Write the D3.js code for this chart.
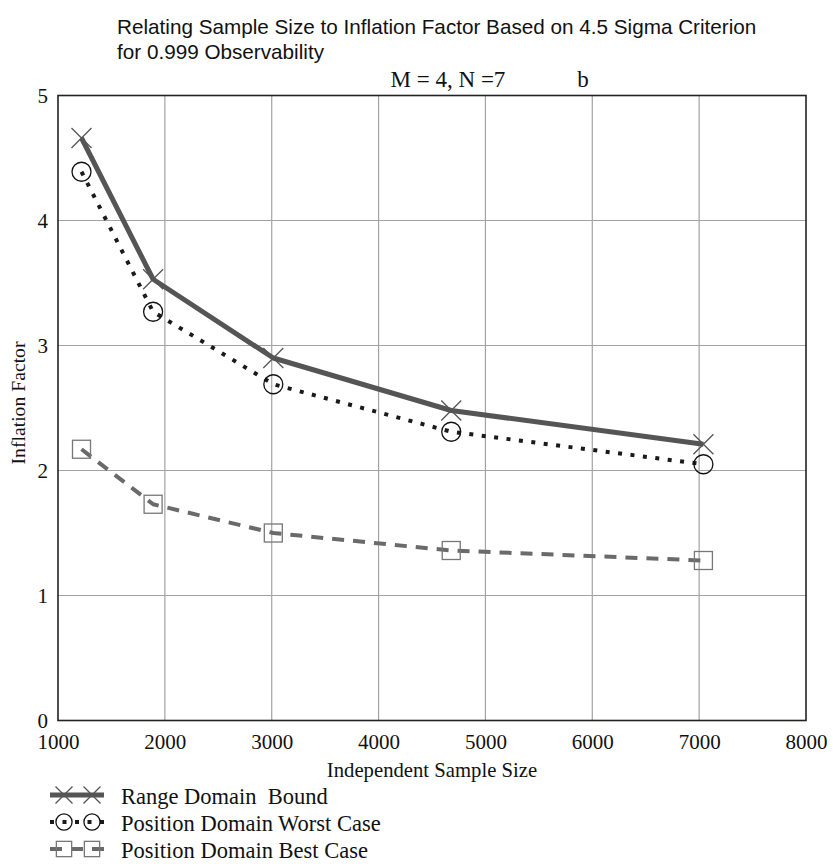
<!DOCTYPE html>
<html>
<head>
<meta charset="utf-8">
<script src="https://cdn.jsdelivr.net/npm/d3@7"></script>
<style>
  html, body { margin: 0; padding: 0; background: #fff; }
  svg { display: block; }
</style>
</head>
<body>
<svg id="chart" width="833" height="864"></svg>
<script>
// ---- data ----
const sampleSizes = [1220, 1890, 3015, 4680, 7040];
const rangeBound = [4.66, 3.53, 2.90, 2.48, 2.21];
const worstCase = [4.39, 3.27, 2.69, 2.31, 2.05];
const bestCase = [2.17, 1.73, 1.50, 1.36, 1.28];
const xTicks = [1000, 2000, 3000, 4000, 5000, 6000, 7000, 8000];
const yTicks = [0, 1, 2, 3, 4, 5];
const seriesNames = ["Range Domain  Bound", "Position Domain Worst Case", "Position Domain Best Case"];
const titleLines = ["Relating Sample Size to Inflation Factor Based on 4.5 Sigma Criterion", "for 0.999 Observability"];

// ---- layout ----
const svg = d3.select("#chart");
const L = 58, R = 806, T = 95.5, B = 720.5;
const x = d3.scaleLinear().domain([1000, 8000]).range([L, R]);
const y = d3.scaleLinear().domain([0, 5]).range([B, T]);
const serif = "'Liberation Serif', 'Times New Roman', serif";
const sans = "'Liberation Sans', Arial, sans-serif";

// title
svg.append("g").selectAll("text").data(titleLines).join("text")
  .attr("x", 117).attr("y", (d, i) => 34 + i * 25)
  .attr("font-family", sans).attr("font-size", 20.7).attr("fill", "#111")
  .text(d => d);
svg.append("text").attr("x", 448).attr("y", 87).attr("text-anchor", "middle")
  .attr("font-family", serif).attr("font-size", 23).attr("fill", "#111").text("M = 4, N =7");
svg.append("text").attr("x", 583).attr("y", 87).attr("text-anchor", "middle")
  .attr("font-family", serif).attr("font-size", 23).attr("fill", "#111").text("b");

// gridlines
const grid = svg.append("g").attr("stroke", "#a3a3a3").attr("stroke-width", 1.2);
grid.selectAll("line.vx").data(xTicks.slice(1, -1)).join("line")
  .attr("x1", d => x(d)).attr("x2", d => x(d)).attr("y1", T).attr("y2", B);
grid.selectAll("line.hy").data(yTicks.slice(1, -1)).join("line")
  .attr("y1", d => y(d)).attr("y2", d => y(d)).attr("x1", L).attr("x2", R);

// frame
svg.append("rect").attr("x", L).attr("y", T).attr("width", R - L).attr("height", B - T)
  .attr("fill", "none").attr("stroke", "#222").attr("stroke-width", 1.6);

// axes (labels via d3 axes)
const xAxis = svg.append("g").attr("transform", `translate(0,${B})`)
  .call(d3.axisBottom(x).tickValues(xTicks).tickSize(0).tickPadding(14).tickFormat(d3.format("d")));
xAxis.select(".domain").remove();
xAxis.selectAll("text").attr("font-family", serif).attr("font-size", 21).attr("fill", "#111");

const yAxis = svg.append("g").attr("transform", `translate(${L},0)`)
  .call(d3.axisLeft(y).tickValues(yTicks).tickSize(0).tickPadding(10).tickFormat(d3.format("d")));
yAxis.select(".domain").remove();
yAxis.selectAll("text").attr("font-family", serif).attr("font-size", 21).attr("fill", "#111");

// axis titles
svg.append("text").attr("x", (L + R) / 2).attr("y", 777).attr("text-anchor", "middle")
  .attr("font-family", serif).attr("font-size", 20.7).attr("fill", "#111").text("Independent Sample Size");
svg.append("text").attr("transform", `translate(25,${403}) rotate(-90)`).attr("text-anchor", "middle")
  .attr("font-family", serif).attr("font-size", 19.7).attr("fill", "#111").text("Inflation Factor");

// series
const series = [
  { name: seriesNames[0], values: rangeBound, stroke: "#555", width: 5, dash: null, marker: "x" },
  { name: seriesNames[1], values: worstCase, stroke: "#1a1a1a", width: 4, dash: "4,8.5", marker: "circle" },
  { name: seriesNames[2], values: bestCase, stroke: "#6a6a6a", width: 4, dash: "12,9", marker: "square" }
];

const line = d3.line().x(d => x(d[0])).y(d => y(d[1]));

function drawMarker(g, type, cx, cy, s) {
  if (type === "x") {
    g.append("path").attr("d", `M${cx - 10 * s},${cy - 10 * s}L${cx + 10 * s},${cy + 10 * s}M${cx - 10 * s},${cy + 10 * s}L${cx + 10 * s},${cy - 10 * s}`)
      .attr("stroke", "#555").attr("stroke-width", 1.3).attr("fill", "none");
  } else if (type === "circle") {
    g.append("circle").attr("cx", cx).attr("cy", cy).attr("r", 9.5 * s)
      .attr("stroke", "#111").attr("stroke-width", 1.3).attr("fill", "none");
  } else {
    g.append("rect").attr("x", cx - 9 * s).attr("y", cy - 9 * s).attr("width", 18 * s).attr("height", 18 * s)
      .attr("stroke", "#777").attr("stroke-width", 1.3).attr("fill", "none");
  }
}

series.forEach(s => {
  const pts = sampleSizes.map((v, i) => [v, s.values[i]]);
  svg.append("path").datum(pts).attr("d", line)
    .attr("fill", "none").attr("stroke", s.stroke).attr("stroke-width", s.width)
    .attr("stroke-dasharray", s.dash).attr("stroke-linejoin", "round");
  const mg = svg.append("g");
  pts.forEach(p => drawMarker(mg, s.marker, x(p[0]), y(p[1]), 1));
});

// legend
const legendRows = [797, 824, 851];
series.forEach((s, i) => {
  const ly = legendRows[i];
  const g = svg.append("g");
  g.append("line").attr("x1", 50).attr("x2", 104).attr("y1", ly - 2).attr("y2", ly - 2)
    .attr("stroke", s.stroke).attr("stroke-width", s.width).attr("stroke-dasharray", s.dash);
  drawMarker(g, s.marker, 64, ly - 2, 0.85);
  drawMarker(g, s.marker, 92, ly - 2, 0.85);
  g.append("text").attr("x", 121).attr("y", ly + 6.5)
    .attr("font-family", serif).attr("font-size", 22.5).attr("fill", "#111")
    .attr("xml:space", "preserve").style("white-space", "pre").text(s.name);
});
</script>
</body>
</html>
